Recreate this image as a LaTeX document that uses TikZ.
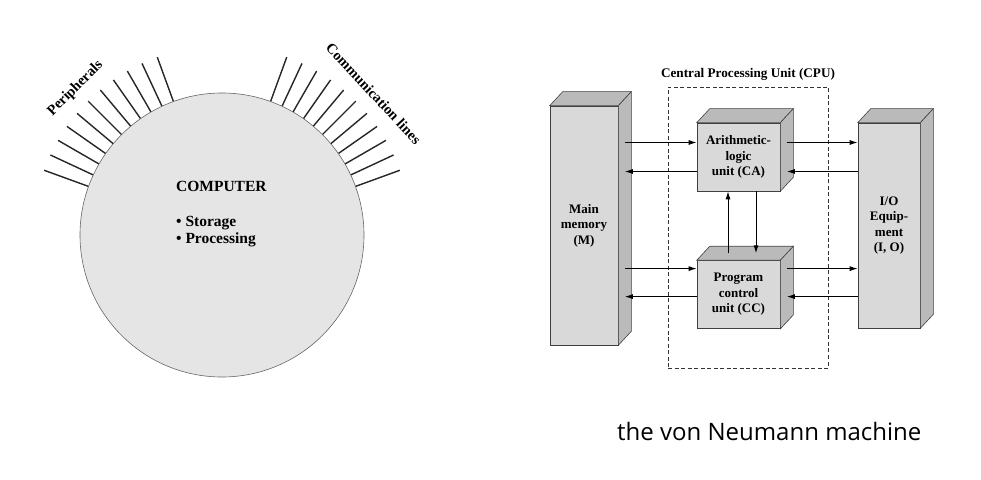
\documentclass[tikz,border=0pt]{standalone}
\usepackage{fontspec}
\setmainfont{Liberation Serif}
\newfontfamily\notefont{Open Sans}
\usetikzlibrary{arrows.meta,positioning}

\tikzset{
  front/.style={draw=black!75, fill=black!15, line width=0.6pt, inner sep=0pt,
    align=center, font=\bfseries\fontsize{13}{15.5}\selectfont},
  face/.style={draw=black!75, fill=black!27, line width=0.6pt},
  flow/.style={->, line width=1pt},
  ray/.style={line width=1.4pt, black!85},
  tag/.style={font=\bfseries\fontsize{14.5}{16}\selectfont},
}

% top and side faces of a box node
\newcommand{\boxfaces}[1]{%
  \draw[face] (#1.north west) -- ([shift={(13,14)}]#1.north west)
    -- ([shift={(13,14)}]#1.north east) -- (#1.north east) -- cycle;
  \draw[face] (#1.north east) -- ([shift={(13,14)}]#1.north east)
    -- ([shift={(13,14)}]#1.south east) -- (#1.south east) -- cycle;}

\begin{document}
\begin{tikzpicture}[x=1pt,y=1pt,>={Latex[length=8pt,width=5pt]}]
  \useasboundingbox (0,0) rectangle (981,479);

  % computer
  \node[circle, draw=black!60, fill=black!10, line width=0.6pt,
        minimum size=284pt, inner sep=0pt] (comp) at (222,244) {};
  \foreach \a in {110,115,...,160}
    \draw[ray] (comp.\a) -- ([shift={(\a:47pt)}]comp.\a);
  \foreach \a in {20,25,...,70}
    \draw[ray] (comp.\a) -- ([shift={(\a:47pt)}]comp.\a);
  \node[tag, rotate=45] (periph) at ([shift={(135:65pt)}]comp.135) {Peripherals};
  \node[tag, rotate=-47] (commlines) at ([shift={(43:65pt)}]comp.43) {Communication lines};
  \node[align=left, anchor=north west, inner sep=0pt,
        font=\bfseries\fontsize{15.5}{17}\selectfont] (comptext) at (176,298)
    {COMPUTER\\[18pt]\textbullet\ Storage\\\textbullet\ Processing};

  % von Neumann machine
  \node[draw=black!80, line width=0.6pt, dash pattern=on 4pt off 2.5pt,
        minimum width=160pt, minimum height=281pt] (cpu) at (748,251.5) {};
  \node[font=\bfseries\fontsize{13.2}{14}\selectfont, above=2.5pt of cpu] (cpulbl)
    {Central Processing Unit (CPU)};

  \node[front, minimum width=68pt, minimum height=239pt] (mem) at (584,253.5)
    {Main\\memory\\(M)};
  \node[front, minimum width=83pt, minimum height=68pt] (alu) at (738.5,322)
    {Arithmetic-\\logic\\unit (CA)};
  \node[front, minimum width=83pt, minimum height=68pt] (pcu) [below=69pt of alu]
    {Program\\control\\unit (CC)};
  \node[front, minimum width=62pt, minimum height=205pt] (io) at (889,253.5)
    {I/O\\Equip-\\ment\\(I, O)};
  \foreach \b in {mem,alu,pcu,io} {\boxfaces{\b}}

  \coordinate (memside) at ([xshift=6.5pt]mem.east);
  \foreach \b/\hi/\lo in {alu/14.5/-14.5, pcu/26/-2} {
    \coordinate (\b-in) at ([yshift=\hi pt]\b.west);
    \coordinate (\b-out) at ([yshift=\lo pt]\b.west);
    \coordinate (\b-r1) at ([xshift=6.5pt,yshift=\hi pt]\b.east);
    \coordinate (\b-r2) at ([xshift=6.5pt,yshift=\lo pt]\b.east);
    \draw[flow] (memside |- \b-in) -- (\b-in);
    \draw[flow] (\b-out) -- (memside |- \b-out);
    \draw[flow] (\b-r1) -- (io.west |- \b-r1);
    \draw[flow] (io.west |- \b-r2) -- (\b-r2);
  }
  \draw[flow] ([xshift=-10.5pt,yshift=7pt]pcu.north) -- ([xshift=-10.5pt]alu.south);
  \draw[flow] ([xshift=17.5pt]alu.south) -- ([xshift=17.5pt,yshift=7pt]pcu.north);

  \node[font=\notefont\fontsize{24}{28}\selectfont, anchor=base west, inner sep=0pt]
    (caption) at (617,39) {the von Neumann machine};
\end{tikzpicture}
\end{document}
